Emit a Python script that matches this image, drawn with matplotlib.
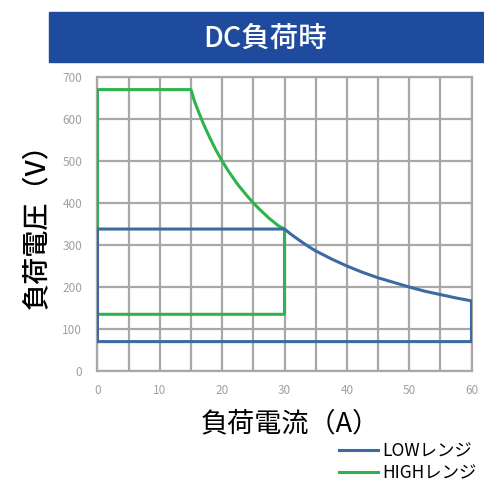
import matplotlib
matplotlib.use('Agg')
import matplotlib.pyplot as plt
from matplotlib.patches import Rectangle

plt.rcParams['font.family'] = ['Noto Sans CJK JP', 'DejaVu Sans']

# LOWレンジ (電流 A, 電圧 V)
low_current = [0, 0, 30, 31, 32.5, 34, 35, 37.5, 40, 42.5, 45, 47.5, 50, 52.5, 55, 57.5, 60, 60, 0]
low_voltage = [70, 338, 338, 326, 310, 295, 286, 267, 250, 235, 222, 211, 200, 190, 182, 174, 167, 70, 70]

# HIGHレンジ
high_current = [0, 0, 15, 15.5, 16, 17, 18, 19, 20, 21, 22.5, 24, 25, 26, 27.5, 29, 30, 30, 0]
high_voltage = [135, 670, 670, 645, 625, 588, 556, 526, 500, 476, 444, 417, 400, 385, 364, 346, 338, 135, 135]

x_ticks = [0, 10, 20, 30, 40, 50, 60]
y_ticks = [0, 100, 200, 300, 400, 500, 600, 700]

blue = '#3C6BA3'
green = '#2DB44C'
grid_gray = '#A8A8A8'

fig = plt.figure(figsize=(4.85, 4.91), dpi=100)

# タイトル帯
fig.patches.append(Rectangle((49 / 485, 1 - 62 / 491), 1 - 49 / 485, 50 / 491,
                             transform=fig.transFigure, color='#1E4B9D', zorder=0))
fig.text(265 / 485, 1 - 38 / 491, 'DC負荷時', color='white', fontsize=20.5,
         fontweight='medium', ha='center', va='center')

ax = fig.add_axes([97.5 / 485, 1 - 371 / 491, 374 / 485, 294 / 491])

ax.plot(high_current, high_voltage, color=green, lw=2.2, zorder=3, label='HIGHレンジ')
ax.plot(low_current, low_voltage, color=blue, lw=2.2, zorder=4, label='LOWレンジ')

ax.set_xlim(0, 60)
ax.set_ylim(0, 700)
ax.set_xticks(x_ticks)
ax.set_yticks(y_ticks)
ax.set_xticks(range(0, 61, 5), minor=True)
ax.grid(True, which='both', color=grid_gray, lw=1.6, zorder=1)
ax.set_axisbelow(True)
for s in ax.spines.values():
    s.set_color(grid_gray)
    s.set_linewidth(1.6)
ax.tick_params(which='both', length=0, labelsize=8.5, labelcolor='#A0A0A0')
ax.tick_params(axis='y', pad=11)
ax.tick_params(axis='x', pad=9)

fig.text(290 / 485, 1 - 424 / 491, '負荷電流（A）', fontsize=19.5,
         ha='center', va='center')
fig.text(37 / 485, 1 - 220 / 491, '負荷電圧（V）', fontsize=19.5, fontweight='medium',
         rotation=90, ha='center', va='center')

handles, labels = ax.get_legend_handles_labels()
fig.legend(handles[::-1], labels[::-1], loc='lower right',
           bbox_to_anchor=(1.0, 0.0), frameon=False, fontsize=12.5,
           handlelength=2.3, handletextpad=0.2, labelspacing=0.25,
           borderaxespad=0.1)

fig.savefig('out.png', dpi=100)
